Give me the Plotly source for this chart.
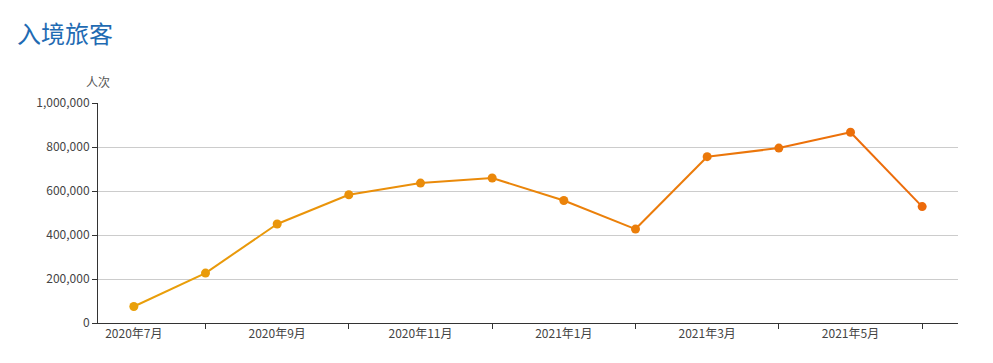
import plotly.graph_objects as go

months = ["2020年7月", "2020年8月", "2020年9月", "2020年10月", "2020年11月", "2020年12月",
          "2021年1月", "2021年2月", "2021年3月", "2021年4月", "2021年5月", "2021年6月"]
arrivals = [75000, 227000, 450000, 583000, 636000, 659000,
            557000, 427000, 756000, 795000, 867000, 529000]
y_ticks = [0, 200000, 400000, 600000, 800000, 1000000]

FONT = "Noto Sans CJK SC, Noto Sans, sans-serif"
c0 = (233, 160, 10)
c1 = (236, 106, 10)


def mix(t):
    r = [round(a + (b - a) * t) for a, b in zip(c0, c1)]
    return "rgb(%d,%d,%d)" % tuple(r)


n = len(months)
xs = list(range(n))
fig = go.Figure()
for i in range(n - 1):
    fig.add_trace(go.Scatter(
        x=[xs[i], xs[i + 1]], y=[arrivals[i], arrivals[i + 1]],
        mode="lines", line=dict(color=mix((i + 0.5) / (n - 1)), width=2),
        hoverinfo="skip", showlegend=False))
fig.add_trace(go.Scatter(
    x=xs, y=arrivals, mode="markers",
    marker=dict(size=9, color=[mix(i / (n - 1)) for i in range(n)]),
    text=months, hovertemplate="%{text}: %{y:,}<extra></extra>",
    showlegend=False))

# page body has an 8px default margin, so figure is sized/offset to compensate
fig.update_layout(
    width=985, height=355,
    margin=dict(l=90, r=35, t=95, b=40, autoexpand=False),
    paper_bgcolor="white", plot_bgcolor="white",
    font=dict(family=FONT, size=12, color="#555"),
    title=dict(text="入境旅客", x=0, xref="container", xanchor="left",
               y=0.924, yref="container", yanchor="middle", pad=dict(l=9),
               font=dict(size=24, color="#1f6bb3", family=FONT)),
    xaxis=dict(
        range=[-0.5, n - 0.5],
        tickmode="array",
        tickvals=xs[0::2], ticktext=months[0::2],
        ticks="", showgrid=False, zeroline=False,
        showline=True, linecolor="#333", linewidth=1,
        tickfont=dict(size=12, color="#444"),
        minor=dict(tickmode="array", tickvals=xs[1::2], ticks="outside",
                   ticklen=5, tickcolor="#333", showgrid=False),
        fixedrange=True, automargin=False,
    ),
    yaxis=dict(
        range=[0, 1000000],
        tickmode="array", tickvals=y_ticks,
        ticktext=[f"{v:,}" for v in y_ticks],
        ticks="outside", ticklen=5, tickcolor="#333",
        showline=True, linecolor="#333", linewidth=1,
        gridcolor="#cccccc", gridwidth=1, zeroline=False,
        tickfont=dict(size=12, color="#444"),
        fixedrange=True, automargin=False,
    ),
)
fig.add_annotation(text="人次", x=0, xref="paper", xanchor="center",
                   y=1, yref="paper", yshift=22, yanchor="middle",
                   showarrow=False, font=dict(size=12, color="#555", family=FONT))
fig.write_html("out.html")
